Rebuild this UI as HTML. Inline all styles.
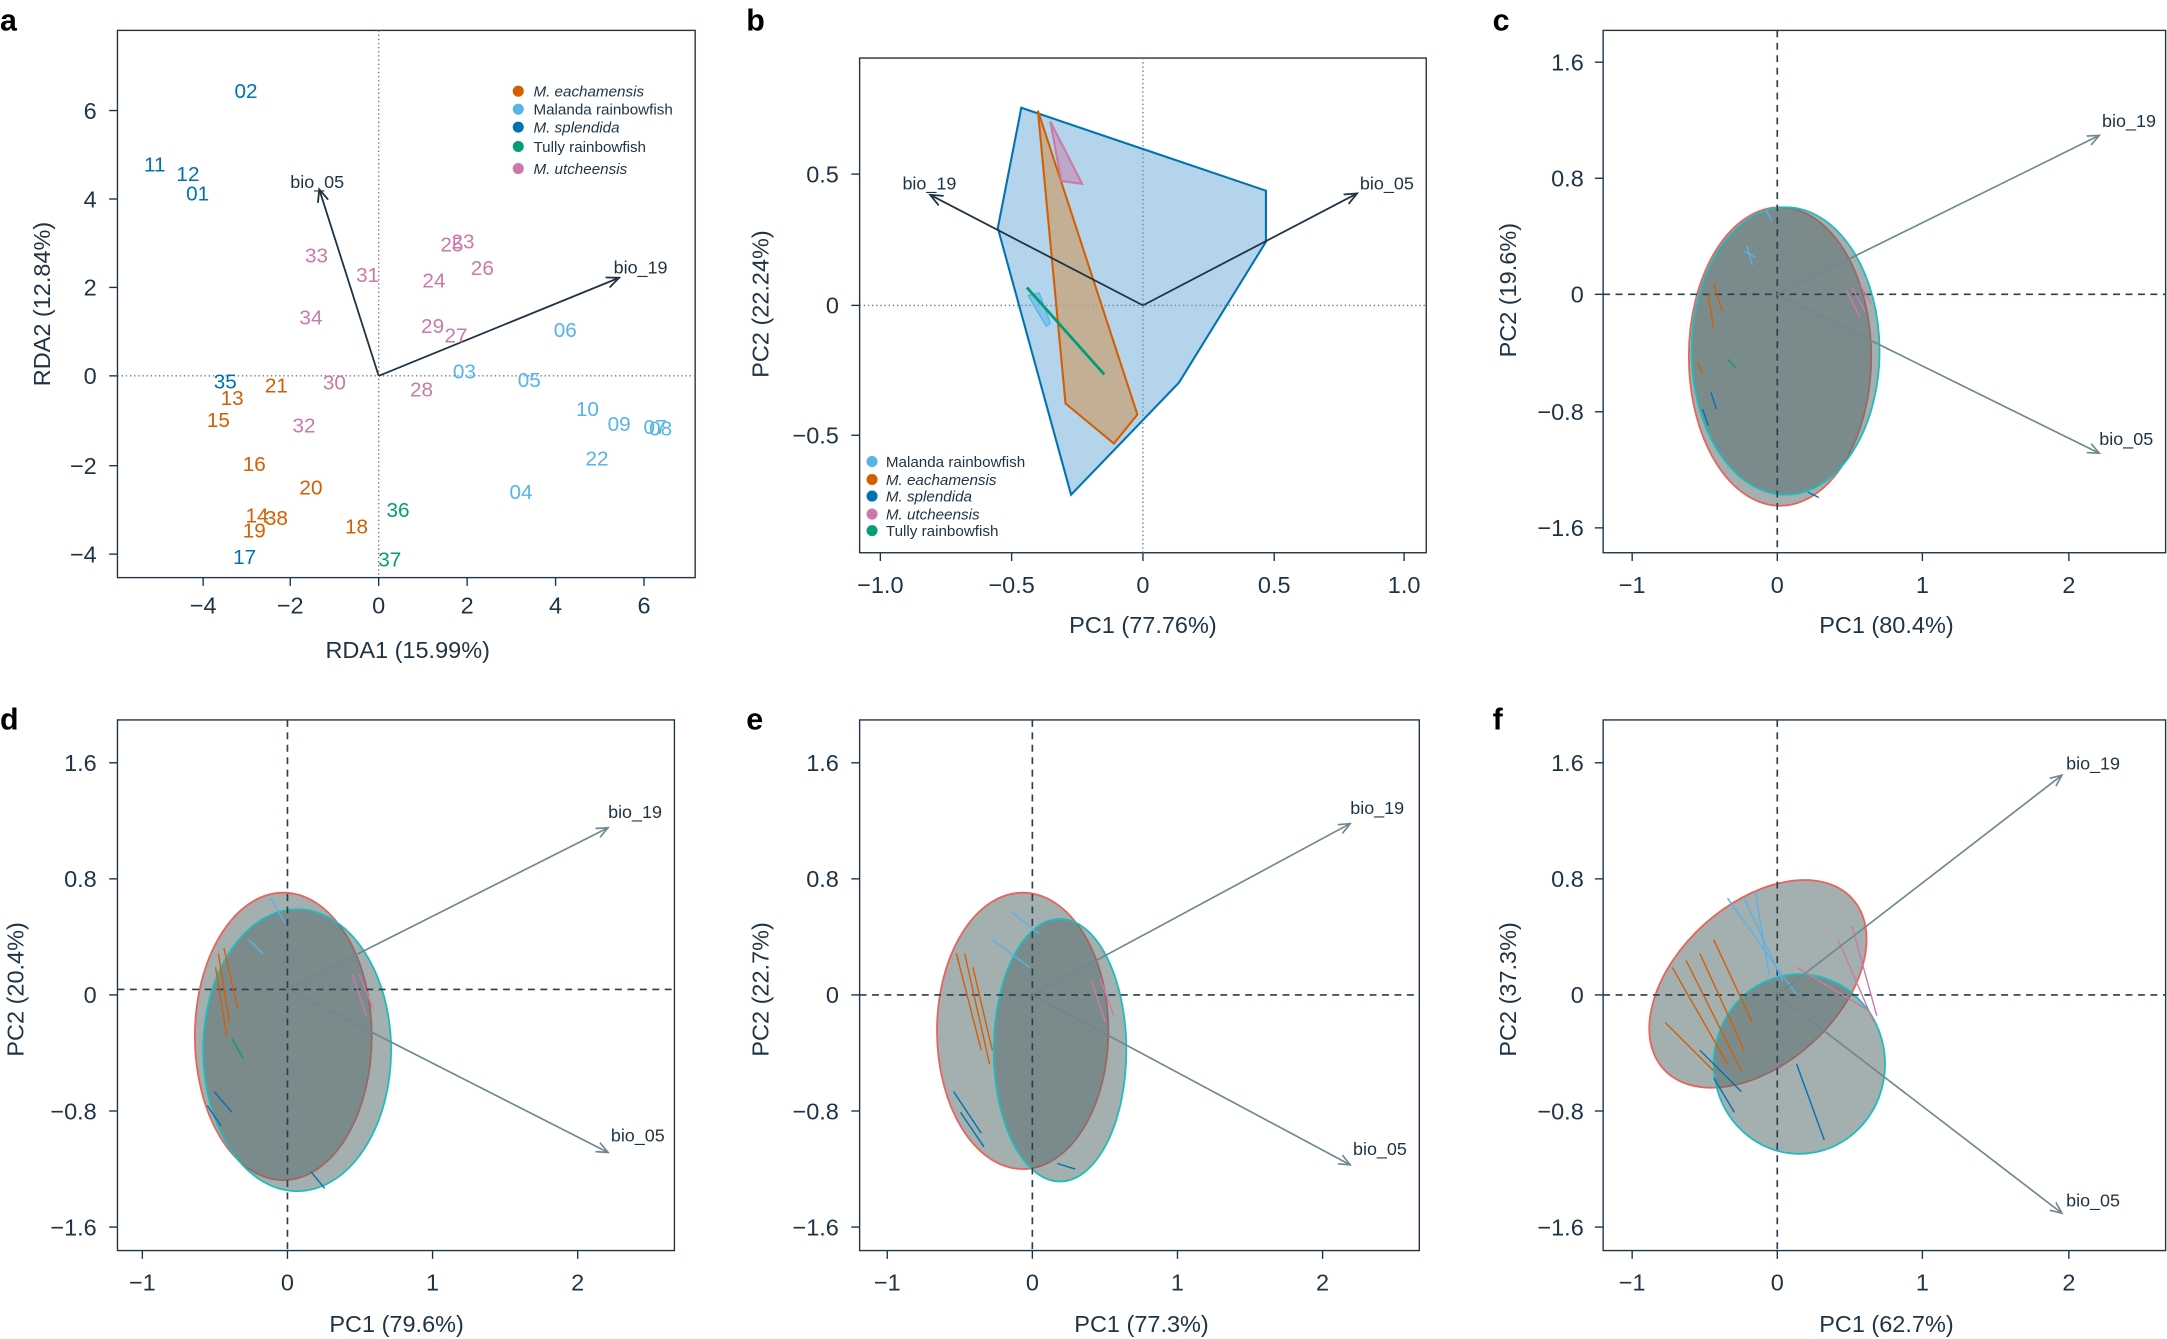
<!DOCTYPE html>
<html><head><meta charset="utf-8"><style>
html,body{margin:0;padding:0;background:#fff}
svg{display:block}
text{font-family:"Liberation Sans",sans-serif;fill:#1f3344}
.t{font-size:15px}
.ax{font-size:17px}
.L{font-size:22px;font-weight:bold;fill:#000}
</style></head><body>
<svg width="2167" height="1339" viewBox="0 0 1568 969" preserveAspectRatio="none" xmlns="http://www.w3.org/2000/svg">
<defs>
<marker id="ah" markerWidth="8" markerHeight="8" refX="7" refY="4" orient="auto"><path d="M0,1 L7,4 L0,7" fill="none" stroke="#1f3344" stroke-width="1"/></marker>
<marker id="ag" markerWidth="8" markerHeight="8" refX="7" refY="4" orient="auto"><path d="M0,1 L7,4 L0,7" fill="none" stroke="#6f8890" stroke-width="1"/></marker>
</defs>
<text class="L" x="0" y="22">a</text><text class="L" x="540" y="22">b</text><text class="L" x="1080" y="22">c</text>
<text class="L" x="0" y="528">d</text><text class="L" x="540" y="528">e</text><text class="L" x="1080" y="528">f</text>

<!-- PANEL A -->
<g>
<rect x="85" y="22" width="418" height="396" fill="none" stroke="#1f3344"/>
<line x1="274" y1="22" x2="274" y2="418" stroke="#777" stroke-dasharray="1,2"/>
<line x1="85" y1="272" x2="503" y2="272" stroke="#777" stroke-dasharray="1,2"/>
<g stroke="#1f3344"><line x1="147" y1="418" x2="147" y2="424"/><line x1="210" y1="418" x2="210" y2="424"/><line x1="274" y1="418" x2="274" y2="424"/><line x1="338" y1="418" x2="338" y2="424"/><line x1="402" y1="418" x2="402" y2="424"/><line x1="466" y1="418" x2="466" y2="424"/>
<line x1="79" y1="80" x2="85" y2="80"/><line x1="79" y1="144" x2="85" y2="144"/><line x1="79" y1="208" x2="85" y2="208"/><line x1="79" y1="272" x2="85" y2="272"/><line x1="79" y1="337" x2="85" y2="337"/><line x1="79" y1="401" x2="85" y2="401"/></g>
<g class="ax" text-anchor="middle"><text x="147" y="444">−4</text><text x="210" y="444">−2</text><text x="274" y="444">0</text><text x="338" y="444">2</text><text x="402" y="444">4</text><text x="466" y="444">6</text></g>
<g class="ax" text-anchor="end"><text x="70" y="86">6</text><text x="70" y="150">4</text><text x="70" y="214">2</text><text x="70" y="278">0</text><text x="70" y="343">−2</text><text x="70" y="407">−4</text></g>
<text class="ax" x="295" y="476" text-anchor="middle">RDA1 (15.99%)</text>
<text class="ax" transform="translate(36,220) rotate(-90)" text-anchor="middle">RDA2 (12.84%)</text>
<line x1="274" y1="272" x2="231" y2="137" stroke="#1f3344" stroke-width="1.3" marker-end="url(#ah)"/>
<line x1="274" y1="272" x2="448" y2="201" stroke="#1f3344" stroke-width="1.3" marker-end="url(#ah)"/>
<text x="210" y="136" font-size="13">bio_05</text>
<text x="444" y="198" font-size="13">bio_19</text>
<g text-anchor="middle" font-size="15">
<text x="178" y="71" style="fill:#0072b2">02</text><text x="112" y="124" style="fill:#0072b2">11</text><text x="136" y="131" style="fill:#0072b2">12</text><text x="143" y="145" style="fill:#0072b2">01</text><text x="163" y="281" style="fill:#0072b2">35</text><text x="177" y="408" style="fill:#0072b2">17</text>
<text x="200" y="284" style="fill:#d55e00">21</text><text x="168" y="293" style="fill:#d55e00">13</text><text x="158" y="309" style="fill:#d55e00">15</text><text x="184" y="341" style="fill:#d55e00">16</text><text x="225" y="358" style="fill:#d55e00">20</text><text x="186" y="378" style="fill:#d55e00">14</text><text x="200" y="380" style="fill:#d55e00">38</text><text x="184" y="389" style="fill:#d55e00">19</text><text x="258" y="386" style="fill:#d55e00">18</text>
<text x="288" y="374" style="fill:#009e73">36</text><text x="282" y="410" style="fill:#009e73">37</text>
<text x="229" y="190" style="fill:#cc79a7">33</text><text x="266" y="204" style="fill:#cc79a7">31</text><text x="225" y="235" style="fill:#cc79a7">34</text><text x="242" y="282" style="fill:#cc79a7">30</text><text x="220" y="313" style="fill:#cc79a7">32</text><text x="327" y="182" style="fill:#cc79a7">25</text><text x="335" y="180" style="fill:#cc79a7">23</text><text x="349" y="199" style="fill:#cc79a7">26</text><text x="314" y="208" style="fill:#cc79a7">24</text><text x="313" y="241" style="fill:#cc79a7">29</text><text x="330" y="248" style="fill:#cc79a7">27</text><text x="305" y="287" style="fill:#cc79a7">28</text>
<text x="409" y="244" style="fill:#56b4e9">06</text><text x="336" y="274" style="fill:#56b4e9">03</text><text x="383" y="280" style="fill:#56b4e9">05</text><text x="425" y="301" style="fill:#56b4e9">10</text><text x="448" y="312" style="fill:#56b4e9">09</text><text x="474" y="314" style="fill:#56b4e9">07</text><text x="478" y="315" style="fill:#56b4e9">08</text><text x="432" y="337" style="fill:#56b4e9">22</text><text x="377" y="361" style="fill:#56b4e9">04</text>
</g>
<g font-size="11">
<circle cx="375" cy="66" r="4" fill="#d55e00"/><text x="386" y="70" font-style="italic">M. eachamensis</text>
<circle cx="375" cy="79" r="4" fill="#56b4e9"/><text x="386" y="83">Malanda rainbowfish</text>
<circle cx="375" cy="92" r="4" fill="#0072b2"/><text x="386" y="96" font-style="italic">M. splendida</text>
<circle cx="375" cy="106" r="4" fill="#009e73"/><text x="386" y="110">Tully rainbowfish</text>
<circle cx="375" cy="122" r="4" fill="#cc79a7"/><text x="386" y="126" font-style="italic">M. utcheensis</text>
</g>
</g>

<!-- PANEL B -->
<g>
<rect x="622" y="42" width="410" height="358" fill="none" stroke="#1f3344"/>
<line x1="827" y1="42" x2="827" y2="400" stroke="#777" stroke-dasharray="1,2"/>
<line x1="622" y1="221" x2="1032" y2="221" stroke="#777" stroke-dasharray="1,2"/>
<polygon points="739,78 916,138 916,175 853,277 775,358 722,165" fill="#56a0d3" fill-opacity="0.45" stroke="#0072b2" stroke-width="1.5"/>
<polygon points="751,80 823,300 806,321 771,292" fill="#c9a070" fill-opacity="0.7" stroke="#d55e00" stroke-width="1.5"/>
<polygon points="760,88 783,133 768,131" fill="#cc79a7" fill-opacity="0.5" stroke="#cc79a7" stroke-width="1.5"/>
<polygon points="744,214 752,212 760,234 757,236" fill="#56b4e9" fill-opacity="0.5" stroke="#56b4e9"/>
<line x1="743" y1="208" x2="799" y2="271" stroke="#009e73" stroke-width="2"/>
<line x1="827" y1="221" x2="673" y2="141" stroke="#1f3344" stroke-width="1.3" marker-end="url(#ah)"/>
<line x1="827" y1="221" x2="982" y2="140" stroke="#1f3344" stroke-width="1.3" marker-end="url(#ah)"/>
<text x="653" y="137" font-size="13">bio_19</text><text x="984" y="137" font-size="13">bio_05</text>
<g stroke="#1f3344"><line x1="637" y1="400" x2="637" y2="406"/><line x1="732" y1="400" x2="732" y2="406"/><line x1="827" y1="400" x2="827" y2="406"/><line x1="922" y1="400" x2="922" y2="406"/><line x1="1016" y1="400" x2="1016" y2="406"/>
<line x1="616" y1="126" x2="622" y2="126"/><line x1="616" y1="221" x2="622" y2="221"/><line x1="616" y1="315" x2="622" y2="315"/></g>
<g class="ax" text-anchor="middle"><text x="637" y="429">−1.0</text><text x="732" y="429">−0.5</text><text x="827" y="429">0</text><text x="922" y="429">0.5</text><text x="1016" y="429">1.0</text></g>
<g class="ax" text-anchor="end"><text x="607" y="132">0.5</text><text x="607" y="227">0</text><text x="607" y="321">−0.5</text></g>
<text class="ax" x="827" y="458" text-anchor="middle">PC1 (77.76%)</text>
<text class="ax" transform="translate(556,220) rotate(-90)" text-anchor="middle">PC2 (22.24%)</text>
<g font-size="11">
<circle cx="631" cy="334" r="4" fill="#56b4e9"/><text x="641" y="338">Malanda rainbowfish</text>
<circle cx="631" cy="347" r="4" fill="#d55e00"/><text x="641" y="351" font-style="italic">M. eachamensis</text>
<circle cx="631" cy="359" r="4" fill="#0072b2"/><text x="641" y="363" font-style="italic">M. splendida</text>
<circle cx="631" cy="372" r="4" fill="#cc79a7"/><text x="641" y="376" font-style="italic">M. utcheensis</text>
<circle cx="631" cy="384" r="4" fill="#009e73"/><text x="641" y="388">Tully rainbowfish</text>
</g>
</g>

<!-- PANEL C -->
<g>
<rect x="1160" y="22" width="407" height="378" fill="none" stroke="#1f3344"/>
<ellipse cx="1288" cy="258" rx="66" ry="108" fill="#5a6e6e" fill-opacity="0.55" stroke="#e8635a" stroke-width="1.3"/>
<ellipse cx="1292" cy="254" rx="68" ry="104" fill="#5a6e6e" fill-opacity="0.55" stroke="#1fbcbc" stroke-width="1.3"/>
<line x1="1286" y1="22" x2="1286" y2="400" stroke="#2a3f4f" stroke-dasharray="5,4" stroke-width="1.2"/>
<line x1="1160" y1="213" x2="1567" y2="213" stroke="#2a3f4f" stroke-dasharray="5,4" stroke-width="1.2"/>
<g stroke-width="1">
<line x1="1240" y1="205" x2="1246" y2="225" stroke="#d55e00"/><line x1="1236" y1="212" x2="1240" y2="238" stroke="#d55e00"/><line x1="1228" y1="262" x2="1232" y2="270" stroke="#d55e00"/>
<line x1="1264" y1="178" x2="1268" y2="192" stroke="#56b4e9"/><line x1="1262" y1="182" x2="1270" y2="186" stroke="#56b4e9"/><line x1="1278" y1="152" x2="1282" y2="160" stroke="#56b4e9"/>
<line x1="1336" y1="210" x2="1346" y2="230" stroke="#cc79a7"/><line x1="1340" y1="208" x2="1350" y2="226" stroke="#cc79a7"/><line x1="1346" y1="206" x2="1354" y2="220" stroke="#cc79a7"/>
<line x1="1238" y1="284" x2="1242" y2="296" stroke="#0072b2"/><line x1="1232" y1="296" x2="1236" y2="308" stroke="#0072b2"/><line x1="1308" y1="356" x2="1316" y2="360" stroke="#0072b2"/>
<line x1="1250" y1="260" x2="1256" y2="266" stroke="#009e73"/>
</g>
<line x1="1286" y1="213" x2="1519" y2="98" stroke="#6f8890" stroke-width="1.2" marker-end="url(#ag)"/>
<line x1="1286" y1="213" x2="1519" y2="328" stroke="#6f8890" stroke-width="1.2" marker-end="url(#ag)"/>
<text x="1521" y="92" font-size="13">bio_19</text><text x="1519" y="322" font-size="13">bio_05</text>
<g stroke="#1f3344"><line x1="1181" y1="400" x2="1181" y2="406"/><line x1="1286" y1="400" x2="1286" y2="406"/><line x1="1391" y1="400" x2="1391" y2="406"/><line x1="1497" y1="400" x2="1497" y2="406"/>
<line x1="1154" y1="45" x2="1160" y2="45"/><line x1="1154" y1="129" x2="1160" y2="129"/><line x1="1154" y1="213" x2="1160" y2="213"/><line x1="1154" y1="298" x2="1160" y2="298"/><line x1="1154" y1="382" x2="1160" y2="382"/></g>
<g class="ax" text-anchor="middle"><text x="1181" y="429">−1</text><text x="1286" y="429">0</text><text x="1391" y="429">1</text><text x="1497" y="429">2</text></g>
<g class="ax" text-anchor="end"><text x="1146" y="51">1.6</text><text x="1146" y="135">0.8</text><text x="1146" y="219">0</text><text x="1146" y="304">−0.8</text><text x="1146" y="388">−1.6</text></g>
<text class="ax" x="1365" y="458" text-anchor="middle">PC1 (80.4%)</text>
<text class="ax" transform="translate(1097,210) rotate(-90)" text-anchor="middle">PC2 (19.6%)</text>
</g>

<!-- PANEL D -->
<g>
<rect x="85" y="521" width="403" height="384" fill="none" stroke="#1f3344"/>
<ellipse cx="205" cy="750" rx="64" ry="104" fill="#5a6e6e" fill-opacity="0.55" stroke="#e8635a" stroke-width="1.3"/>
<ellipse cx="215" cy="760" rx="68" ry="102" fill="#5a6e6e" fill-opacity="0.55" stroke="#1fbcbc" stroke-width="1.3"/>
<line x1="208" y1="521" x2="208" y2="905" stroke="#2a3f4f" stroke-dasharray="5,4" stroke-width="1.2"/>
<line x1="85" y1="716" x2="488" y2="716" stroke="#2a3f4f" stroke-dasharray="5,4" stroke-width="1.2"/>
<g stroke-width="1">
<line x1="158" y1="690" x2="166" y2="740" stroke="#d55e00"/><line x1="162" y1="686" x2="172" y2="730" stroke="#d55e00"/><line x1="156" y1="700" x2="164" y2="750" stroke="#d55e00"/>
<line x1="180" y1="680" x2="190" y2="690" stroke="#56b4e9"/><line x1="196" y1="650" x2="206" y2="668" stroke="#56b4e9"/>
<line x1="255" y1="705" x2="265" y2="735" stroke="#cc79a7"/><line x1="260" y1="705" x2="270" y2="730" stroke="#cc79a7"/>
<line x1="155" y1="790" x2="168" y2="805" stroke="#0072b2"/><line x1="150" y1="800" x2="160" y2="815" stroke="#0072b2"/><line x1="225" y1="848" x2="235" y2="860" stroke="#0072b2"/>
<line x1="168" y1="752" x2="176" y2="766" stroke="#009e73"/>
</g>
<line x1="208" y1="716" x2="440" y2="599" stroke="#6f8890" stroke-width="1.2" marker-end="url(#ag)"/>
<line x1="208" y1="716" x2="440" y2="834" stroke="#6f8890" stroke-width="1.2" marker-end="url(#ag)"/>
<text x="440" y="592" font-size="13">bio_19</text><text x="442" y="826" font-size="13">bio_05</text>
<g stroke="#1f3344"><line x1="103" y1="905" x2="103" y2="911"/><line x1="208" y1="905" x2="208" y2="911"/><line x1="313" y1="905" x2="313" y2="911"/><line x1="418" y1="905" x2="418" y2="911"/>
<line x1="79" y1="552" x2="85" y2="552"/><line x1="79" y1="636" x2="85" y2="636"/><line x1="79" y1="720" x2="85" y2="720"/><line x1="79" y1="804" x2="85" y2="804"/><line x1="79" y1="888" x2="85" y2="888"/></g>
<g class="ax" text-anchor="middle"><text x="103" y="934">−1</text><text x="208" y="934">0</text><text x="313" y="934">1</text><text x="418" y="934">2</text></g>
<g class="ax" text-anchor="end"><text x="70" y="558">1.6</text><text x="70" y="642">0.8</text><text x="70" y="726">0</text><text x="70" y="810">−0.8</text><text x="70" y="894">−1.6</text></g>
<text class="ax" x="287" y="964" text-anchor="middle">PC1 (79.6%)</text>
<text class="ax" transform="translate(17,716) rotate(-90)" text-anchor="middle">PC2 (20.4%)</text>
</g>

<!-- PANEL E -->
<g>
<rect x="622" y="521" width="405" height="384" fill="none" stroke="#1f3344"/>
<ellipse cx="740" cy="746" rx="62" ry="100" fill="#5a6e6e" fill-opacity="0.55" stroke="#e8635a" stroke-width="1.3"/>
<ellipse cx="767" cy="760" rx="48" ry="95" fill="#5a6e6e" fill-opacity="0.55" stroke="#1fbcbc" stroke-width="1.3"/>
<line x1="747" y1="521" x2="747" y2="905" stroke="#2a3f4f" stroke-dasharray="5,4" stroke-width="1.2"/>
<line x1="622" y1="720" x2="1027" y2="720" stroke="#2a3f4f" stroke-dasharray="5,4" stroke-width="1.2"/>
<g stroke-width="1">
<line x1="692" y1="690" x2="710" y2="760" stroke="#d55e00"/><line x1="698" y1="690" x2="716" y2="770" stroke="#d55e00"/><line x1="704" y1="700" x2="718" y2="760" stroke="#d55e00"/>
<line x1="718" y1="680" x2="745" y2="700" stroke="#56b4e9"/><line x1="732" y1="660" x2="752" y2="676" stroke="#56b4e9"/>
<line x1="790" y1="710" x2="800" y2="740" stroke="#cc79a7"/><line x1="796" y1="708" x2="806" y2="735" stroke="#cc79a7"/>
<line x1="690" y1="790" x2="710" y2="820" stroke="#0072b2"/><line x1="695" y1="805" x2="712" y2="830" stroke="#0072b2"/><line x1="765" y1="842" x2="778" y2="846" stroke="#0072b2"/>
</g>
<line x1="747" y1="720" x2="977" y2="596" stroke="#6f8890" stroke-width="1.2" marker-end="url(#ag)"/>
<line x1="747" y1="720" x2="977" y2="843" stroke="#6f8890" stroke-width="1.2" marker-end="url(#ag)"/>
<text x="977" y="589" font-size="13">bio_19</text><text x="979" y="836" font-size="13">bio_05</text>
<g stroke="#1f3344"><line x1="642" y1="905" x2="642" y2="911"/><line x1="747" y1="905" x2="747" y2="911"/><line x1="852" y1="905" x2="852" y2="911"/><line x1="957" y1="905" x2="957" y2="911"/>
<line x1="616" y1="552" x2="622" y2="552"/><line x1="616" y1="636" x2="622" y2="636"/><line x1="616" y1="720" x2="622" y2="720"/><line x1="616" y1="804" x2="622" y2="804"/><line x1="616" y1="888" x2="622" y2="888"/></g>
<g class="ax" text-anchor="middle"><text x="642" y="934">−1</text><text x="747" y="934">0</text><text x="852" y="934">1</text><text x="957" y="934">2</text></g>
<g class="ax" text-anchor="end"><text x="607" y="558">1.6</text><text x="607" y="642">0.8</text><text x="607" y="726">0</text><text x="607" y="810">−0.8</text><text x="607" y="894">−1.6</text></g>
<text class="ax" x="826" y="964" text-anchor="middle">PC1 (77.3%)</text>
<text class="ax" transform="translate(556,716) rotate(-90)" text-anchor="middle">PC2 (22.7%)</text>
</g>

<!-- PANEL F -->
<g>
<rect x="1160" y="521" width="407" height="384" fill="none" stroke="#1f3344"/>
<ellipse cx="1272" cy="712" rx="58" ry="92" transform="rotate(48 1272 712)" fill="#5a6e6e" fill-opacity="0.55" stroke="#e8635a" stroke-width="1.3"/>
<ellipse cx="1302" cy="770" rx="62" ry="65" fill="#5a6e6e" fill-opacity="0.55" stroke="#1fbcbc" stroke-width="1.3"/>
<line x1="1286" y1="521" x2="1286" y2="905" stroke="#2a3f4f" stroke-dasharray="5,4" stroke-width="1.2"/>
<line x1="1160" y1="720" x2="1567" y2="720" stroke="#2a3f4f" stroke-dasharray="5,4" stroke-width="1.2"/>
<g stroke-width="1">
<line x1="1210" y1="700" x2="1250" y2="770" stroke="#d55e00"/><line x1="1220" y1="695" x2="1260" y2="775" stroke="#d55e00"/><line x1="1230" y1="690" x2="1262" y2="760" stroke="#d55e00"/><line x1="1240" y1="680" x2="1268" y2="740" stroke="#d55e00"/><line x1="1205" y1="740" x2="1240" y2="775" stroke="#d55e00"/>
<line x1="1250" y1="650" x2="1300" y2="720" stroke="#56b4e9"/><line x1="1262" y1="650" x2="1290" y2="710" stroke="#56b4e9"/><line x1="1270" y1="645" x2="1280" y2="705" stroke="#56b4e9"/>
<line x1="1330" y1="680" x2="1356" y2="740" stroke="#cc79a7"/><line x1="1340" y1="670" x2="1358" y2="735" stroke="#cc79a7"/><line x1="1300" y1="700" x2="1350" y2="730" stroke="#cc79a7"/>
<line x1="1230" y1="760" x2="1260" y2="790" stroke="#0072b2"/><line x1="1240" y1="780" x2="1255" y2="805" stroke="#0072b2"/><line x1="1300" y1="770" x2="1320" y2="825" stroke="#0072b2"/>
</g>
<line x1="1286" y1="720" x2="1492" y2="561" stroke="#6f8890" stroke-width="1.2" marker-end="url(#ag)"/>
<line x1="1286" y1="720" x2="1492" y2="878" stroke="#6f8890" stroke-width="1.2" marker-end="url(#ag)"/>
<text x="1495" y="557" font-size="13">bio_19</text><text x="1495" y="873" font-size="13">bio_05</text>
<g stroke="#1f3344"><line x1="1181" y1="905" x2="1181" y2="911"/><line x1="1286" y1="905" x2="1286" y2="911"/><line x1="1391" y1="905" x2="1391" y2="911"/><line x1="1497" y1="905" x2="1497" y2="911"/>
<line x1="1154" y1="552" x2="1160" y2="552"/><line x1="1154" y1="636" x2="1160" y2="636"/><line x1="1154" y1="720" x2="1160" y2="720"/><line x1="1154" y1="804" x2="1160" y2="804"/><line x1="1154" y1="888" x2="1160" y2="888"/></g>
<g class="ax" text-anchor="middle"><text x="1181" y="934">−1</text><text x="1286" y="934">0</text><text x="1391" y="934">1</text><text x="1497" y="934">2</text></g>
<g class="ax" text-anchor="end"><text x="1146" y="558">1.6</text><text x="1146" y="642">0.8</text><text x="1146" y="726">0</text><text x="1146" y="810">−0.8</text><text x="1146" y="894">−1.6</text></g>
<text class="ax" x="1365" y="964" text-anchor="middle">PC1 (62.7%)</text>
<text class="ax" transform="translate(1097,716) rotate(-90)" text-anchor="middle">PC2 (37.3%)</text>
</g>
</svg>
</body></html>
